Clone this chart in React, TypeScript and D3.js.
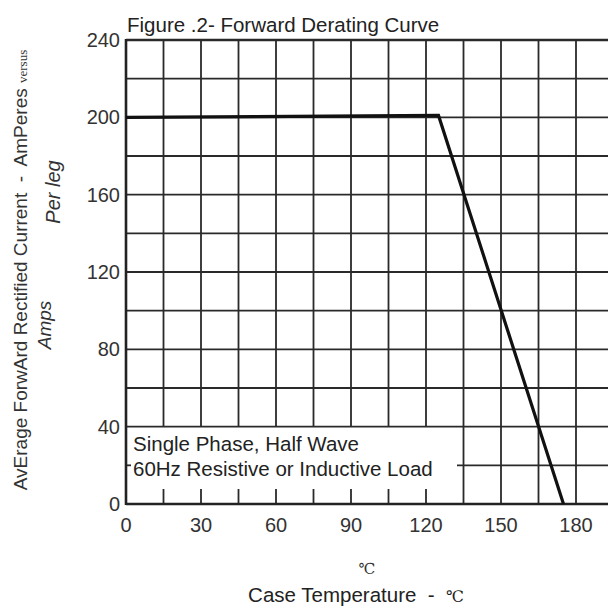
import React from "react";
import * as d3 from "d3";

const caseTemp = [0, 125, 175];
const currentAmps = [200, 201, 0];
const xTickValues = [0, 30, 60, 90, 120, 150, 180];
const yTickValues = [0, 40, 80, 120, 160, 200, 240];
const xGridValues = d3.range(0, 196, 15);
const yGridValues = d3.range(20, 241, 20);
const titleText = "Figure .2- Forward Derating Curve";
const noteLines = ["Single Phase, Half Wave", "60Hz Resistive or Inductive Load"];

const W = 608;
const H = 608;

export default function App() {
  const x = d3.scaleLinear().domain([0, 195]).range([126, 613.5]);
  const y = d3.scaleLinear().domain([0, 240]).range([504, 40]);
  const boxRight = 457;
  const line = d3
    .line<number>()
    .x((_, i) => x(caseTemp[i]))
    .y((d) => y(d));
  const gridColor = "#2a2a2a";
  const font = "Liberation Sans, Arial, sans-serif";
  return (
    <svg
      width={W}
      height={H}
      style={{ position: "absolute", left: 0, top: 0, background: "#fff" }}
    >
      <rect x={0} y={0} width={W} height={H} fill="#fff" />
      {xGridValues.map((v) => {
        const xp = x(v);
        const inBox = xp < boxRight;
        return (
          <g key={"v" + v}>
            <line x1={xp} x2={xp} y1={y(240)} y2={inBox ? y(40) : y(0)} stroke={gridColor} strokeWidth={1.8} />
            {inBox && v > 0 && (
              <line x1={xp} x2={xp} y1={y(0) - 15} y2={y(0)} stroke={gridColor} strokeWidth={1.8} />
            )}
          </g>
        );
      })}
      {yGridValues.map((v) => {
        const yp = y(v);
        if (v === 20) {
          return (
            <g key={"h" + v}>
              <line x1={boxRight} x2={W} y1={yp} y2={yp} stroke={gridColor} strokeWidth={1.8} />
              <line x1={x(0)} x2={x(0) + 5} y1={yp} y2={yp} stroke={gridColor} strokeWidth={1.8} />
            </g>
          );
        }
        return <line key={"h" + v} x1={x(0)} x2={W} y1={yp} y2={yp} stroke={gridColor} strokeWidth={v === 240 ? 2.4 : 1.8} />;
      })}
      <line x1={x(0)} x2={x(0)} y1={y(240) - 1} y2={y(0) + 1} stroke="#222" strokeWidth={2.6} />
      <line x1={x(0)} x2={W} y1={y(0)} y2={y(0)} stroke="#222" strokeWidth={2.6} />
      <path d={line(currentAmps) || ""} fill="none" stroke="#111" strokeWidth={3.2} strokeLinejoin="miter" />
      {yTickValues.map((v) => (
        <text key={"yt" + v} x={x(0) - 6} y={y(v) + 7} textAnchor="end" fontFamily={font} fontSize={20} fill="#333">
          {v}
        </text>
      ))}
      {xTickValues.map((v) => (
        <text key={"xt" + v} x={x(v)} y={532} textAnchor="middle" fontFamily={font} fontSize={20} fill="#333">
          {v}
        </text>
      ))}
      <text x={127} y={32} fontFamily={font} fontSize={20.5} fill="#222">
        {titleText}
      </text>
      {noteLines.map((t, i) => (
        <text key={"n" + i} x={133} y={451 + i * 25} fontFamily={font} fontSize={20.5} fill="#222">
          {t}
        </text>
      ))}
      <text x={367} y={574} textAnchor="middle" fontFamily="DejaVu Serif, serif" fontSize={15} fill="#333">
        ℃
      </text>
      <text x={356} y={602} textAnchor="middle" fontFamily={font} fontSize={20.5} fill="#222" style={{ whiteSpace: "pre" }}>
        {"Case Temperature  -  "}
        <tspan fontFamily="DejaVu Serif, serif" fontSize={16}>℃</tspan>
      </text>
      <text
        transform="translate(27,270) rotate(-90)"
        textAnchor="middle"
        fontFamily={font}
        fontSize={19}
        fill="#333"
        style={{ whiteSpace: "pre" }}
      >
        {"AvErage ForwArd Rectified Current  -  AmPeres "}
        <tspan fontFamily="Liberation Serif, serif" fontSize={13}>versus</tspan>
      </text>
      <text
        transform="translate(60,192) rotate(-90)"
        textAnchor="middle"
        fontFamily={font}
        fontStyle="italic"
        fontSize={20}
        fill="#333"
      >
        Per leg
      </text>
      <text
        transform="translate(51,325) rotate(-90)"
        textAnchor="middle"
        fontFamily={font}
        fontStyle="italic"
        fontSize={19}
        fill="#333"
      >
        Amps
      </text>
    </svg>
  );
}
